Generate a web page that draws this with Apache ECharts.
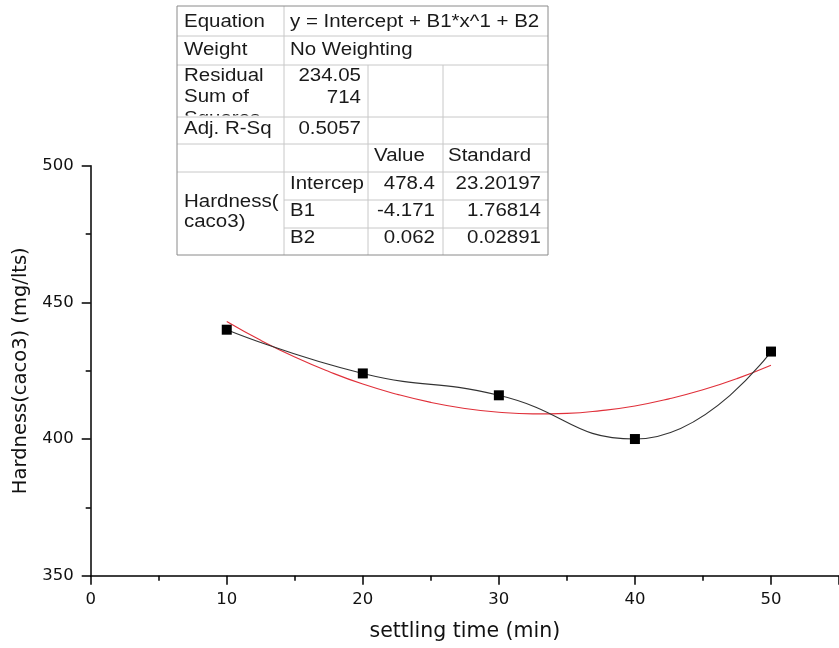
<!DOCTYPE html>
<html>
<head>
<meta charset="utf-8">
<script src="https://cdn.jsdelivr.net/npm/echarts@6/dist/echarts.min.js"></script>
<style>
html,body{margin:0;padding:0;background:#fff;}
#chart{width:839px;height:648px;}
</style>
</head>
<body>
<div id="chart"></div>
<script>
// ---- data ----
const settlingTime = [10, 20, 30, 40, 50];
const hardness = [440, 424, 416, 400, 432];
// red fitted curve, read along its length
const fitTime = [10, 12.5, 15, 17.5, 20, 22.5, 25, 27.5, 30, 32.5, 35, 37.5, 40, 42.5, 45, 47.5, 50];
const fitHardness = [443.0, 436.1, 430.0, 424.7, 420.1, 416.4, 413.4, 411.2, 409.8, 409.2, 409.4, 410.4, 412.1, 414.7, 418.0, 422.1, 427.0];

const xTitle = 'settling time (min)';
const yTitle = 'Hardness(caco3) (mg/lts)';

// fit report table content
const rowLabels = ['Equation', 'Weight', 'Residual\nSum of\nSquares', 'Adj. R-Sq', '', 'Hardness(\ncaco3)'];
const equationText = 'y = Intercept + B1*x^1 + B2';
const weightText = 'No Weighting';
const rssText = '234.05\n714';
const adjR2Text = '0.5057';
const paramHeaders = ['Value', 'Standard'];
const paramNames = ['Intercep', 'B1', 'B2'];
const paramValues = ['478.4', '-4.171', '0.062'];
const paramErrors = ['23.20197', '1.76814', '0.02891'];

// ---- table layout ----
const colX = [177, 284, 368, 443, 548];
const rowY = [6, 36, 65, 117, 144, 172, 200, 228, 255];
const TF = 17.5, SX = 1.17;
const txtColor = '#1a1a1a';
const innerLine = '#c8c8c8';

function txt(x, y, text, align, vAlign, lh, z) {
  return {
    type: 'text', x: x, y: y, scaleX: SX, z: z || 13,
    style: {
      text: text, fill: txtColor, fontSize: TF,
      fontFamily: '"Liberation Sans", Arial, sans-serif',
      align: align, verticalAlign: vAlign || 'middle', lineHeight: lh || 21.5
    }
  };
}
function hline(x1, x2, y, color) {
  return { type: 'line', z: 15, shape: { x1: x1, y1: y, x2: x2, y2: y }, style: { stroke: color, lineWidth: 1 } };
}
function vline(x, y1, y2, color) {
  return { type: 'line', z: 15, shape: { x1: x, y1: y1, x2: x, y2: y2 }, style: { stroke: color, lineWidth: 1 } };
}

const g = [];
g.push({ type: 'rect', z: 9, shape: { x: colX[0], y: rowY[0], width: colX[4] - colX[0], height: rowY[8] - rowY[0] }, style: { fill: '#fff' } });
// residual label (third line clipped by its cell)
g.push(txt(184, 65.3, rowLabels[2], 'left', 'top', 21.5, 10));
g.push({ type: 'rect', z: 11, shape: { x: colX[0] + 1, y: 115.6, width: colX[1] - colX[0] - 2, height: rowY[4] - 115.6 - 0.5 }, style: { fill: '#fff' } });
// labels column
g.push(txt(184, 22.2, rowLabels[0], 'left'));
g.push(txt(184, 50.5, rowLabels[1], 'left'));
g.push(txt(184, 129, rowLabels[3], 'left'));
g.push(txt(184, 212, rowLabels[5], 'left', 'middle', 19.5));
// values
g.push(txt(290, 22.2, equationText, 'left'));
g.push(txt(290, 50.5, weightText, 'left'));
g.push(txt(361, 87, rssText, 'right', 'middle', 21.5));
g.push(txt(361, 129, adjR2Text, 'right'));
g.push(txt(374, 156.5, paramHeaders[0], 'left'));
g.push(txt(448, 156.5, paramHeaders[1], 'left'));
const pY = [184.5, 211, 238];
for (let i = 0; i < paramNames.length; i++) {
  g.push(txt(290, pY[i], paramNames[i], 'left'));
  g.push(txt(435, pY[i], paramValues[i], 'right'));
  g.push(txt(541, pY[i], paramErrors[i], 'right'));
}
// grid lines
[1, 2, 3, 4, 5].forEach(function (r) { g.push(hline(colX[0], colX[4], rowY[r], innerLine)); });
[6, 7].forEach(function (r) { g.push(hline(colX[1], colX[4], rowY[r], innerLine)); });
g.push(vline(colX[1], rowY[0], rowY[8], innerLine));
g.push(vline(colX[2], rowY[2], rowY[8], innerLine));
g.push(vline(colX[3], rowY[2], rowY[8], innerLine));
g.push({ type: 'rect', z: 16, shape: { x: colX[0], y: rowY[0], width: colX[4] - colX[0], height: rowY[8] - rowY[0] }, style: { fill: 'none', stroke: '#8a8a8a', lineWidth: 1 } });

const chart = echarts.init(document.getElementById('chart'), null, { renderer: 'canvas' });
const axisFont = '"DejaVu Sans", sans-serif';
chart.setOption({
  animation: false,
  backgroundColor: '#fff',
  grid: { left: 90.7, top: 165.7, bottom: 72.3, right: -8, containLabel: false },
  xAxis: {
    type: 'value', min: 0, max: 55, interval: 10,
    name: xTitle, nameLocation: 'middle', nameGap: 45,
    nameTextStyle: { fontSize: 20.5, fontFamily: axisFont, color: '#111' },
    axisLine: { show: true, onZero: false, lineStyle: { color: '#000', width: 1.5 } },
    axisTick: { show: true, length: 9, lineStyle: { color: '#000', width: 1.5 } },
    minorTick: { show: true, splitNumber: 2, length: 5, lineStyle: { color: '#000', width: 1.5 } },
    axisLabel: { fontSize: 16.5, fontFamily: axisFont, color: '#111', margin: 16, showMaxLabel: false,
      formatter: function (v) { return v % 10 === 0 ? String(v) : ''; } },
    splitLine: { show: false }
  },
  yAxis: {
    type: 'value', min: 350, max: 500, interval: 50,
    name: yTitle, nameLocation: 'middle', nameGap: 57,
    nameTextStyle: { fontSize: 19.5, fontFamily: axisFont, color: '#111' },
    axisLine: { show: true, onZero: false, lineStyle: { color: '#000', width: 1.5 } },
    axisTick: { show: true, length: 9, lineStyle: { color: '#000', width: 1.5 } },
    minorTick: { show: true, splitNumber: 2, length: 5, lineStyle: { color: '#000', width: 1.5 } },
    axisLabel: { fontSize: 16.5, fontFamily: axisFont, color: '#111', margin: 17 },
    splitLine: { show: false }
  },
  series: [
    {
      type: 'line', name: 'fit',
      data: fitTime.map(function (x, i) { return [x, fitHardness[i]]; }),
      smooth: true, showSymbol: false, symbol: 'none',
      lineStyle: { color: '#e0303a', width: 1.1 }, z: 2
    },
    {
      type: 'line', name: 'Hardness',
      data: settlingTime.map(function (x, i) { return [x, hardness[i]]; }),
      smooth: 0.5, symbol: 'rect', symbolSize: 10, showSymbol: true,
      itemStyle: { color: '#000' },
      lineStyle: { color: '#333', width: 1.1 }, z: 3
    }
  ],
  graphic: { elements: g }
});
</script>
</body>
</html>
